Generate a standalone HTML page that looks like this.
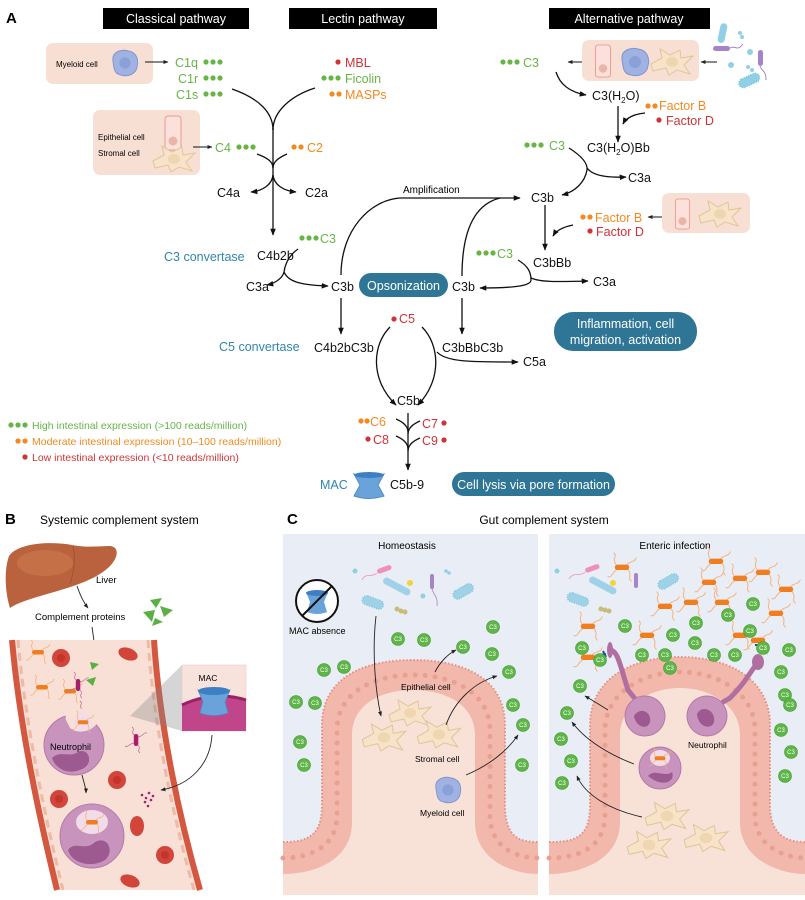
<!DOCTYPE html>
<html><head><meta charset="utf-8"><style>
html,body{margin:0;padding:0;background:#fff}
svg{display:block}
text{font-family:"Liberation Sans",Arial,sans-serif}
</style></head><body>
<svg width="805" height="900" viewBox="0 0 805 900" xmlns="http://www.w3.org/2000/svg">
<defs>
<marker id="ah" viewBox="0 0 10 10" refX="9" refY="5" markerWidth="7" markerHeight="7" orient="auto-start-reverse" markerUnits="userSpaceOnUse"><path d="M0,1 L10,5 L0,9 Z" fill="#111"/></marker>
<marker id="as" viewBox="0 0 10 10" refX="9" refY="5" markerWidth="5" markerHeight="5" orient="auto" markerUnits="userSpaceOnUse"><path d="M0,1 L10,5 L0,9 Z" fill="#222"/></marker>
<symbol id="stro" viewBox="-22 -14 44 28" overflow="visible"><path d="M-21,2 L-10,-4 L-12,-13 L-2,-7 L8,-12 L9,-4 L21,-6 L12,3 L18,12 L5,8 L-3,13 L-6,6 L-19,9 Z" fill="#f6e3c8" stroke="#e2c49c" stroke-width="1"/><ellipse cx="0" cy="0" rx="6" ry="5" fill="#efd6b0"/></symbol>
<symbol id="epi" viewBox="-9 -18 18 36" overflow="visible"><rect x="-8" y="-17" width="16" height="34" rx="3" fill="#fbe0dc" stroke="#e89a93" stroke-width="1"/><circle cx="0" cy="8" r="4.5" fill="#ecb4a6"/></symbol>
<symbol id="mye" viewBox="-15 -15 30 30" overflow="visible"><path d="M-13,-3 C-14,-12 -4,-15 3,-13 C12,-12 15,-4 13,4 C12,12 3,15 -4,13 C-12,12 -12,5 -13,-3Z" fill="#9fb2e2" stroke="#7f95cf" stroke-width="1"/><circle cx="0" cy="0" r="6" fill="#8aa0d8"/></symbol>
<symbol id="ob" viewBox="-10 -10 20 20" overflow="visible"><g fill="none" stroke="#f6b27a" stroke-width="0.8"><path d="M-5,-2 C-9,-8 -3,-9 -7,-12"/><path d="M5,2 C9,7 4,9 8,12"/><path d="M-4,2 C-9,5 -8,9 -12,8"/><path d="M4,-2 C8,-6 10,-3 12,-8"/></g><rect x="-6" y="-2" width="12" height="4.5" rx="2.2" fill="#f07d1e"/></symbol>
<symbol id="mb" viewBox="-10 -10 20 20" overflow="visible"><g fill="none" stroke="#c9709f" stroke-width="0.8"><path d="M-2,-5 C-6,-9 0,-10 -4,-13"/><path d="M2,5 C6,9 0,10 4,13"/><path d="M-2,3 C-8,4 -8,8 -11,6"/><path d="M2,-3 C8,-4 7,-8 11,-7"/></g><rect x="-2.2" y="-6" width="4.5" height="12" rx="2.2" fill="#a81e6a"/></symbol>
<symbol id="rbc" viewBox="-10 -10 20 20" overflow="visible"><circle r="9" fill="#d2453a"/><circle r="4" fill="#c2352c"/></symbol>
</defs>

<!-- ===== PANEL A ===== -->
<text x="6" y="23" font-size="15" font-weight="bold">A</text>
<rect x="103" y="8" width="146" height="21" fill="#000"/>
<text x="176" y="23" font-size="12.5" fill="#fff" text-anchor="middle">Classical pathway</text>
<rect x="289" y="8" width="148" height="21" fill="#000"/>
<text x="363" y="23" font-size="12.5" fill="#fff" text-anchor="middle">Lectin pathway</text>
<rect x="549" y="8" width="161" height="21" fill="#000"/>
<text x="629" y="23" font-size="12.5" fill="#fff" text-anchor="middle">Alternative pathway</text>

<rect x="46" y="43" width="107" height="41" rx="7" fill="#f8dfd3"/>
<text x="56" y="67" font-size="8">Myeloid cell</text>
<use href="#mye" x="111" y="49" width="28" height="28"/>
<line x1="145" y1="62" x2="168" y2="62" stroke="#111" stroke-width="1" marker-end="url(#as)"/>
<g font-size="12.5" fill="#68b447">
<text x="175" y="67">C1q</text><text x="178" y="83">C1r</text><text x="176" y="99">C1s</text>
<text x="345" y="83">Ficolin</text><text x="215" y="152">C4</text>
<text x="523" y="67">C3</text><text x="300" y="243" dx="20">C3</text><text x="549" y="150">C3</text><text x="497" y="258">C3</text>
</g>
<g fill="#68b447">
<circle cx="206" cy="62" r="2.6"/><circle cx="213" cy="62" r="2.6"/><circle cx="220" cy="62" r="2.6"/>
<circle cx="206" cy="78" r="2.6"/><circle cx="213" cy="78" r="2.6"/><circle cx="220" cy="78" r="2.6"/>
<circle cx="206" cy="94" r="2.6"/><circle cx="213" cy="94" r="2.6"/><circle cx="220" cy="94" r="2.6"/>
<circle cx="324" cy="78" r="2.6"/><circle cx="331" cy="78" r="2.6"/><circle cx="338" cy="78" r="2.6"/>
<circle cx="239" cy="147" r="2.6"/><circle cx="246" cy="147" r="2.6"/><circle cx="253" cy="147" r="2.6"/>
<circle cx="503" cy="62" r="2.6"/><circle cx="510" cy="62" r="2.6"/><circle cx="517" cy="62" r="2.6"/>
<circle cx="302" cy="238" r="2.6"/><circle cx="309" cy="238" r="2.6"/><circle cx="316" cy="238" r="2.6"/>
<circle cx="527" cy="145" r="2.6"/><circle cx="534" cy="145" r="2.6"/><circle cx="541" cy="145" r="2.6"/>
<circle cx="479" cy="253" r="2.6"/><circle cx="486" cy="253" r="2.6"/><circle cx="493" cy="253" r="2.6"/>
<circle cx="11" cy="425" r="2.6"/><circle cx="18" cy="425" r="2.6"/><circle cx="25" cy="425" r="2.6"/>
</g>
<g font-size="12.5" fill="#f28a1e">
<text x="345" y="99">MASPs</text><text x="307" y="152">C2</text><text x="659" y="110">Factor B</text><text x="595" y="222">Factor B</text><text x="370" y="426">C6</text>
</g>
<g fill="#f28a1e">
<circle cx="332" cy="94" r="2.6"/><circle cx="339" cy="94" r="2.6"/>
<circle cx="294" cy="147" r="2.6"/><circle cx="301" cy="147" r="2.6"/>
<circle cx="648" cy="106" r="2.6"/><circle cx="655" cy="106" r="2.6"/>
<circle cx="583" cy="217" r="2.6"/><circle cx="590" cy="217" r="2.6"/>
<circle cx="361" cy="421" r="2.6"/><circle cx="367" cy="421" r="2.6"/>
<circle cx="18" cy="441" r="2.6"/><circle cx="25" cy="441" r="2.6"/>
</g>
<g font-size="12.5" fill="#cf3338">
<text x="345" y="67">MBL</text><text x="666" y="125">Factor D</text><text x="596" y="236">Factor D</text>
<text x="399" y="323">C5</text><text x="422" y="428">C7</text><text x="373" y="444">C8</text><text x="422" y="445">C9</text>
</g>
<g fill="#cf3338">
<circle cx="338" cy="62" r="2.6"/><circle cx="659" cy="120" r="2.6"/><circle cx="590" cy="231" r="2.6"/>
<circle cx="394" cy="319" r="2.6"/><circle cx="444" cy="423" r="2.6"/><circle cx="368" cy="439" r="2.6"/><circle cx="444" cy="440" r="2.6"/>
<circle cx="25" cy="457" r="2.6"/>
</g>

<rect x="93" y="110" width="107" height="65" rx="7" fill="#f8dfd3"/>
<text x="98" y="140" font-size="8">Epithelial cell</text>
<text x="98" y="156" font-size="8">Stromal cell</text>
<use href="#epi" x="164" y="115" width="18" height="36"/>
<use href="#stro" x="152" y="145" width="44" height="28"/>
<line x1="193" y1="147" x2="212" y2="147" stroke="#111" stroke-width="1" marker-end="url(#as)"/>

<g fill="none" stroke="#111" stroke-width="1.3">
<path d="M232,89 C258,98 273,112 273,130"/>
<path d="M315,88 C290,96 273,112 273,130"/>
<path d="M257,154 C268,158 273,162 273,168"/>
<path d="M287,154 C278,158 273,162 273,168"/>
<path d="M273,175 C272,185 262,191 251,192" marker-end="url(#ah)"/>
<path d="M273,175 C274,185 284,191 296,192" marker-end="url(#ah)"/>
<path d="M273,128 L273,235" marker-end="url(#ah)"/>
<path d="M298,249 C288,256 285,265 284,272 C282,280 272,284 267,285" marker-end="url(#ah)"/>
<path d="M284,272 C288,281 298,285 328,286" marker-end="url(#ah)"/>
<path d="M341,275 C341,230 370,200 400,198 L520,198" marker-end="url(#ah)"/>
<path d="M462,276 C462,235 472,205 500,198"/>
<path d="M341,298 L341,334" marker-end="url(#ah)"/>
<path d="M462,298 L462,334" marker-end="url(#ah)"/>
<path d="M518,260 C528,266 531,272 531,280 C531,285 520,288 480,288" marker-end="url(#ah)"/>
<path d="M531,278 C540,282 555,282 588,281" marker-end="url(#ah)"/>
<path d="M390,327 C372,345 370,380 396,405" marker-end="url(#ah)"/>
<path d="M422,327 C440,345 442,380 418,405" marker-end="url(#ah)"/>
<path d="M437,352 C446,362 470,362 518,362" marker-end="url(#ah)"/>
<path d="M408,413 L408,470" marker-end="url(#ah)"/>
<path d="M396,419 C403,422 408,426 408,432"/><path d="M420,421 C413,424 408,428 408,434"/>
<path d="M396,436 C403,439 408,443 408,449"/><path d="M420,438 C413,441 408,445 408,451"/>
<path d="M586,62 L568,62" marker-end="url(#as)" stroke-width="1"/>
<path d="M717,62 L701,62" marker-end="url(#as)" stroke-width="1"/>
<path d="M556,72 C560,85 570,92 586,95" marker-end="url(#ah)"/>
<path d="M618,106 L618,142" marker-end="url(#ah)"/>
<path d="M645,113 C634,114 626,118 623,124" marker-end="url(#ah)"/>
<path d="M569,148 C580,155 588,163 587,170 C585,182 575,192 562,195" marker-end="url(#ah)"/>
<path d="M587,168 C592,175 605,178 626,177" marker-end="url(#ah)"/>
<path d="M545,205 L545,250" marker-end="url(#ah)"/>
<path d="M573,225 C563,227 556,231 553,236" marker-end="url(#ah)"/>
<path d="M665,217 L648,217" marker-end="url(#as)" stroke-width="1"/>
</g>

<g font-size="12.5" fill="#111">
<text x="217" y="197">C4a</text><text x="305" y="197">C2a</text>
<text x="257" y="260">C4b2b</text><text x="246" y="291">C3a</text><text x="331" y="291">C3b</text><text x="452" y="291">C3b</text>
<text x="592" y="100">C3(H<tspan font-size="8" dy="3">2</tspan><tspan dy="-3">O)</tspan></text>
<text x="587" y="152">C3(H<tspan font-size="8" dy="3">2</tspan><tspan dy="-3">O)Bb</tspan></text>
<text x="628" y="182">C3a</text><text x="531" y="202">C3b</text>
<text x="533" y="267">C3bBb</text><text x="593" y="286">C3a</text>
<text x="314" y="352">C4b2bC3b</text><text x="442" y="352">C3bBbC3b</text><text x="523" y="366">C5a</text>
<text x="397" y="405">C5b</text><text x="390" y="489">C5b-9</text>
</g>
<text x="403" y="193" font-size="10">Amplification</text>
<g font-size="12.5" fill="#2f86ad">
<text x="164" y="261">C3 convertase</text><text x="219" y="351">C5 convertase</text><text x="320" y="489">MAC</text>
</g>
<g font-size="10.5">
<text x="32" y="429" fill="#68b447">High intestinal expression (&gt;100 reads/million)</text>
<text x="32" y="445" fill="#f28a1e">Moderate intestinal expression (10–100 reads/million)</text>
<text x="32" y="461" fill="#cf3338">Low intestinal expression (&lt;10 reads/million)</text>
</g>
<rect x="359" y="273" width="89" height="24" rx="12" fill="#2e7596"/>
<text x="403.5" y="290" font-size="12.5" fill="#fff" text-anchor="middle">Opsonization</text>
<rect x="554" y="312" width="143" height="39" rx="19" fill="#2e7596"/>
<text x="625.5" y="328" font-size="12.5" fill="#fff" text-anchor="middle">Inflammation, cell</text>
<text x="625.5" y="344" font-size="12.5" fill="#fff" text-anchor="middle">migration, activation</text>
<rect x="452" y="472" width="163" height="24" rx="12" fill="#2e7596"/>
<text x="533.5" y="489" font-size="12.5" fill="#fff" text-anchor="middle">Cell lysis via pore formation</text>
<path d="M354,474 Q369,480 384,474 L378,485 L384,496 Q369,501 354,496 L360,485 Z" fill="#6aa3d9" stroke="#4f8cc8" stroke-width="1"/>
<ellipse cx="369" cy="475" rx="15" ry="3" fill="#3d7fc4"/>

<rect x="582" y="40" width="117" height="41" rx="7" fill="#f8dfd3"/>
<use href="#epi" x="594" y="44" width="18" height="34"/>
<use href="#mye" x="620" y="47" width="30" height="30"/>
<use href="#stro" x="650" y="48" width="44" height="28"/>
<rect x="662" y="193" width="88" height="40" rx="7" fill="#f8dfd3"/>
<use href="#epi" x="674" y="198" width="17" height="32"/>
<use href="#stro" x="698" y="200" width="44" height="28"/>
<g>
<rect x="719" y="23" width="7" height="20" rx="3.5" fill="#8fd0e6" transform="rotate(12 722 33)"/>
<rect x="713" y="46" width="17" height="5" rx="2.5" fill="#a783c7"/>
<path d="M730,48 C736,45 737,52 743,44" stroke="#a783c7" fill="none" stroke-width="1"/>
<rect x="758" y="50" width="5" height="16" rx="2.5" fill="#a783c7"/>
<path d="M760,66 C762,72 766,70 766,80" stroke="#a783c7" fill="none" stroke-width="1"/>
<circle cx="750" cy="52" r="3" fill="#8fd0e6"/><circle cx="731" cy="65" r="3" fill="#8fd0e6"/>
<circle cx="740" cy="33" r="2" fill="#8fd0e6"/><circle cx="742" cy="37" r="2" fill="#8fd0e6"/>
<circle cx="748" cy="67" r="2" fill="#8fd0e6"/><circle cx="752" cy="70" r="2" fill="#8fd0e6"/>
<rect x="738" y="76" width="22" height="9" rx="4.5" fill="#8fd0e6" stroke="#6cc2de" stroke-width="1.5" stroke-dasharray="1 1.5" transform="rotate(-25 749 80)"/>
</g>

<!-- ===== PANEL B ===== -->
<text x="5" y="524" font-size="15" font-weight="bold">B</text>
<text x="40" y="524" font-size="12">Systemic complement system</text>
<path d="M9,556 C18,543 50,541 72,545 C88,548 98,546 110,546 C120,547 118,558 110,566 C100,576 84,583 64,589 C42,596 22,600 10,608 C5,592 4,570 9,556Z" fill="#b9623d"/>
<ellipse cx="45" cy="563" rx="28" ry="13" fill="#cf7a50" opacity="0.6"/>
<path d="M73,546 C76,560 74,572 70,584" fill="none" stroke="#9a4d2e" stroke-width="0.7"/>
<text x="96" y="583" font-size="9.5">Liver</text>
<path d="M77,586 C80,595 84,603 88,608" fill="none" stroke="#222" stroke-width="0.9" marker-end="url(#as)"/>
<text x="35" y="620" font-size="9.5">Complement proteins</text>
<g fill="#5bb043">
<polygon points="150,600 162,598 156,608"/><polygon points="143,612 155,610 152,622"/><polygon points="160,606 173,610 164,617"/><polygon points="155,618 163,622 152,626"/>
</g>
<path d="M92,627 C94,640 95,650 96,657" fill="none" stroke="#222" stroke-width="0.9" marker-end="url(#as)"/>
<path d="M12,640 L154,640 C160,730 180,820 200,890 L57,890 C40,820 20,730 12,640Z" fill="#f8e0d6"/>
<path d="M12,640 C20,730 40,820 57,890" fill="none" stroke="#d4573f" stroke-width="6"/>
<path d="M154,640 C160,730 180,820 200,890" fill="none" stroke="#d4573f" stroke-width="6"/>
<path d="M18,640 C26,730 46,820 63,890" fill="none" stroke="#f0b9a6" stroke-width="3" stroke-dasharray="8 5"/>
<path d="M148,640 C154,730 174,820 194,890" fill="none" stroke="#f0b9a6" stroke-width="3" stroke-dasharray="8 5"/>
<use href="#rbc" x="51" y="648" width="20" height="20"/>
<ellipse cx="128" cy="654" rx="10" ry="6" fill="#d2453a" transform="rotate(20 128 654)"/>
<use href="#rbc" x="107" y="770" width="20" height="20"/>
<use href="#rbc" x="49" y="789" width="20" height="20"/>
<ellipse cx="137" cy="826" rx="7" ry="10" fill="#d2453a"/>
<use href="#rbc" x="155" y="845" width="20" height="20"/>
<ellipse cx="130" cy="881" rx="10" ry="6" fill="#d2453a" transform="rotate(20 130 881)"/>
<use href="#ob" x="28" y="642" width="20" height="20"/>
<use href="#ob" x="32" y="677" width="20" height="20"/>
<use href="#ob" x="60" y="681" width="20" height="20"/>
<use href="#mb" x="68" y="675" width="20" height="20"/>
<use href="#mb" x="74" y="704" width="20" height="20"/>
<use href="#mb" x="126" y="730" width="20" height="20"/>
<g fill="#5bb043"><polygon points="90,662 99,664 92,670"/><polygon points="86,680 96,677 93,686"/><polygon points="82,710 89,715 80,720"/></g>
<!-- neutrophil 1 -->
<circle cx="74" cy="745" r="30" fill="#c894bd" stroke="#b37aa8" stroke-width="1"/>
<path d="M66,720 C64,706 74,700 80,712 C84,700 100,704 100,716 C98,730 80,736 70,728Z" fill="#f8e0d6"/>
<circle cx="83" cy="722" r="9" fill="#f2dce8"/>
<use href="#ob" x="74" y="713" width="18" height="18"/>
<path d="M52,758 C60,750 70,758 78,752 C88,747 94,762 84,768 C70,776 56,770 52,758Z" fill="#9d5a90"/>
<text x="50" y="750" font-size="9">Neutrophil</text>
<path d="M82,775 C84,783 86,788 86,793" fill="none" stroke="#222" stroke-width="0.9" marker-end="url(#as)"/>
<circle cx="92" cy="836" r="32" fill="#c894bd" stroke="#b37aa8" stroke-width="1"/>
<ellipse cx="92" cy="822" rx="16" ry="12" fill="#f2dce8"/>
<use href="#ob" x="82" y="812" width="20" height="20"/>
<path d="M68,850 C75,840 85,852 95,842 C108,835 115,852 105,860 C92,868 72,864 68,850Z" fill="#9d5a90"/>
<polygon points="130,716 182,665 182,731" fill="#888" opacity="0.35"/>
<rect x="182" y="665" width="64" height="66" fill="#f7e3dc" stroke="#e8c8bc" stroke-width="0.5"/>
<path d="M182,705 Q214,690 246,700 L246,731 L182,731Z" fill="#c0458a"/>
<path d="M182,705 Q214,690 246,700" fill="none" stroke="#9d1f64" stroke-width="3"/>
<path d="M198,690 Q214,697 230,690 L225,702 L228,713 Q214,718 200,713 L203,702Z" fill="#6aa3d9" stroke="#4f8cc8" stroke-width="0.8"/>
<ellipse cx="214" cy="691" rx="16" ry="4" fill="#3d7fc4"/>
<text x="208" y="681" font-size="8.5" text-anchor="middle">MAC</text>
<path d="M212,735 C210,765 190,785 161,790" fill="none" stroke="#222" stroke-width="0.9" marker-end="url(#as)"/>
<g fill="#a81e6a"><circle cx="142" cy="795" r="1.3"/><circle cx="146" cy="798" r="1.3"/><circle cx="149" cy="793" r="1.3"/><circle cx="151" cy="800" r="1.3"/><circle cx="145" cy="802" r="1.3"/><circle cx="153" cy="796" r="1.3"/><circle cx="148" cy="806" r="1.3"/></g>

<!-- ===== PANEL C ===== -->
<text x="287" y="524" font-size="15" font-weight="bold">C</text>
<text x="544" y="524" font-size="12" text-anchor="middle">Gut complement system</text>
<rect x="283" y="534" width="255" height="361" fill="#e9edf5"/>
<path d="M283,842 C305,842 322,838 322,805 L322,725 C322,680 360,660 413,660 C466,660 505,680 505,725 L505,805 C505,838 520,842 538,842 L538,895 L283,895Z" fill="#f2b8ab"/>
<path d="M283,842 C305,842 322,838 322,805 L322,725 C322,680 360,660 413,660 C466,660 505,680 505,725 L505,805 C505,838 520,842 538,842" fill="none" stroke="#e68f80" stroke-width="2" stroke-dasharray="1.5 2"/>
<path d="M283,858 C305,858 337,850 337,815 L337,730 C337,695 370,675 413,675 C456,675 490,695 490,730 L490,815 C490,850 520,858 538,858" fill="none" stroke="#e8a090" stroke-width="5" stroke-dasharray="0 10" stroke-linecap="round"/>
<path d="M283,874 C315,874 352,860 352,822 L352,735 C352,705 380,690 413,690 C446,690 475,705 475,735 L475,822 C475,860 512,874 538,874 L538,895 L283,895Z" fill="#f8e2d8"/>
<text x="407" y="549" font-size="10" text-anchor="middle">Homeostasis</text>
<circle cx="317" cy="601" r="21" fill="#fff" stroke="#111" stroke-width="2"/>
<path d="M306,592 Q317,597 328,592 L324,602 L327,612 Q317,616 307,612 L310,602Z" fill="#6aa3d9"/>
<ellipse cx="317" cy="593" rx="11" ry="3" fill="#3d7fc4"/>
<line x1="302" y1="616" x2="332" y2="586" stroke="#111" stroke-width="2"/>
<text x="289" y="634" font-size="9">MAC absence</text>
<g>
<circle cx="355" cy="571" r="2.5" fill="#8fd0e6"/>
<rect x="377" y="567" width="15" height="5" rx="2.5" fill="#ef8fbc" transform="rotate(-20 384 570)"/>
<path d="M377,573 C372,578 366,572 362,580" fill="none" stroke="#ef8fbc" stroke-width="0.8"/>
<rect x="382" y="583" width="30" height="7" rx="3.5" fill="#9fd2e6" transform="rotate(28 397 586)"/>
<rect x="362" y="598" width="22" height="9" rx="4.5" fill="#9fd2e6" stroke="#7cc6e0" stroke-width="1.5" stroke-dasharray="1 1.5" transform="rotate(20 373 602)"/>
<circle cx="410" cy="583" r="3" fill="#f3d33a"/>
<circle cx="423" cy="596" r="2.5" fill="#8fd0e6"/>
<rect x="430" y="574" width="4" height="15" rx="2" fill="#a783c7"/>
<path d="M432,589 C434,596 438,596 437,606" fill="none" stroke="#a783c7" stroke-width="0.8"/>
<circle cx="446" cy="571" r="1.8" fill="#8fd0e6"/><circle cx="449" cy="573" r="1.8" fill="#8fd0e6"/>
<rect x="452" y="587" width="22" height="9" rx="4.5" fill="#9fd2e6" stroke="#7cc6e0" stroke-width="1.5" stroke-dasharray="1 1.5" transform="rotate(-30 463 591)"/>
<circle cx="397" cy="609" r="2.5" fill="#c9bb7a"/><circle cx="401" cy="611" r="2.5" fill="#c9bb7a"/><circle cx="405" cy="612" r="2.5" fill="#c9bb7a"/>
</g>
<use href="#stro" x="388" y="699" width="44" height="28"/>
<use href="#stro" x="361" y="723" width="46" height="29"/>
<use href="#stro" x="416" y="720" width="46" height="29"/>
<use href="#mye" x="434" y="776" width="28" height="28"/>
<text x="401" y="690" font-size="8.5">Epithelial cell</text>
<text x="415" y="762" font-size="8.5">Stromal cell</text>
<text x="420" y="816" font-size="8.5">Myeloid cell</text>
<g fill="none" stroke="#222" stroke-width="0.9">
<path d="M376,616 C372,650 375,690 381,716" marker-end="url(#as)"/>
<path d="M435,672 C440,662 448,654 456,650" marker-end="url(#as)"/>
<path d="M446,725 C455,700 475,682 497,676" marker-end="url(#as)"/>
<path d="M466,775 C490,765 508,750 518,735" marker-end="url(#as)"/>
</g>

<rect x="549" y="534" width="256" height="361" fill="#e9edf5"/>
<path d="M549,842 C575,842 590,838 590,805 L590,725 C590,680 630,657 680,657 C730,657 770,680 770,725 L770,805 C770,838 790,842 805,842 L805,895 L549,895Z" fill="#f2b8ab"/>
<path d="M549,842 C575,842 590,838 590,805 L590,725 C590,680 630,657 680,657 C730,657 770,680 770,725 L770,805 C770,838 790,842 805,842" fill="none" stroke="#e68f80" stroke-width="2" stroke-dasharray="1.5 2"/>
<path d="M549,858 C575,858 605,850 605,815 L605,730 C605,695 640,672 680,672 C720,672 755,695 755,730 L755,815 C755,850 790,858 805,858" fill="none" stroke="#e8a090" stroke-width="5" stroke-dasharray="0 10" stroke-linecap="round"/>
<path d="M549,874 C580,874 620,860 620,822 L620,735 C620,705 650,688 680,688 C710,688 740,705 740,735 L740,822 C740,860 780,874 805,874 L805,895 L549,895Z" fill="#f8e2d8"/>
<text x="675" y="549" font-size="10" text-anchor="middle">Enteric infection</text>
<g>
<circle cx="557" cy="571" r="2.5" fill="#8fd0e6"/>
<rect x="585" y="566" width="15" height="5" rx="2.5" fill="#ef8fbc" transform="rotate(-20 592 569)"/>
<path d="M585,572 C580,577 574,571 569,579" fill="none" stroke="#ef8fbc" stroke-width="0.8"/>
<rect x="588" y="582" width="30" height="7" rx="3.5" fill="#9fd2e6" transform="rotate(28 603 585)"/>
<rect x="567" y="595" width="22" height="9" rx="4.5" fill="#9fd2e6" stroke="#7cc6e0" stroke-width="1.5" stroke-dasharray="1 1.5" transform="rotate(20 578 599)"/>
<circle cx="613" cy="583" r="3" fill="#f3d33a"/>
<rect x="634" y="573" width="4" height="15" rx="2" fill="#a783c7"/>
<rect x="657" y="577" width="22" height="9" rx="4.5" fill="#9fd2e6" stroke="#7cc6e0" stroke-width="1.5" stroke-dasharray="1 1.5" transform="rotate(-30 668 581)"/>
<circle cx="601" cy="609" r="2.5" fill="#c9bb7a"/><circle cx="605" cy="610" r="2.5" fill="#c9bb7a"/><circle cx="609" cy="611" r="2.5" fill="#c9bb7a"/>
</g>
<g>
<use href="#ob" x="610" y="555" width="24" height="24"/><use href="#ob" x="704" y="549" width="24" height="24"/>
<use href="#ob" x="728" y="566" width="24" height="24"/><use href="#ob" x="751" y="560" width="24" height="24"/>
<use href="#ob" x="774" y="577" width="24" height="24"/><use href="#ob" x="697" y="570" width="24" height="24"/>
<use href="#ob" x="653" y="594" width="24" height="24"/><use href="#ob" x="679" y="590" width="24" height="24"/>
<use href="#ob" x="710" y="590" width="24" height="24"/><use href="#ob" x="764" y="601" width="24" height="24"/>
<use href="#ob" x="576" y="614" width="24" height="24"/><use href="#ob" x="635" y="623" width="24" height="24"/>
<use href="#ob" x="746" y="628" width="24" height="24"/><use href="#ob" x="576" y="645" width="24" height="24"/>
<use href="#ob" x="728" y="623" width="24" height="24"/>
</g>
<path d="M611,650 C618,652 620,665 628,690 L636,700" fill="none" stroke="#b06fa0" stroke-width="5" stroke-linecap="round"/>
<path d="M760,660 C752,668 748,680 730,698 L718,705" fill="none" stroke="#b06fa0" stroke-width="5" stroke-linecap="round"/>
<ellipse cx="610" cy="650" rx="3" ry="8" fill="#b06fa0"/>
<ellipse cx="758" cy="662" rx="6" ry="8" fill="#b06fa0"/>
<path d="M600,655 L606,654 M603,651 L606,657" stroke="#1f4fa5" stroke-width="2"/>
<path d="M758,650 L758,645 M755,645 L761,645" stroke="#1f4fa5" stroke-width="2"/>
<circle cx="645" cy="716" r="20" fill="#c894bd" stroke="#b37aa8" stroke-width="1"/>
<path d="M634,716 C640,706 652,712 650,722 C648,730 636,728 634,716Z" fill="#9d5a90"/>
<circle cx="707" cy="716" r="20" fill="#c894bd" stroke="#b37aa8" stroke-width="1"/>
<path d="M697,714 C702,704 716,710 714,722 C712,730 698,728 697,714Z" fill="#9d5a90"/>
<text x="688" y="748" font-size="8.5">Neutrophil</text>
<circle cx="660" cy="768" r="21" fill="#c894bd" stroke="#b37aa8" stroke-width="1"/>
<ellipse cx="660" cy="758" rx="10" ry="8" fill="#f2dce8"/>
<use href="#ob" x="651" y="749" width="18" height="18"/>
<path d="M648,776 C655,768 665,778 672,772 C676,782 662,788 648,776Z" fill="#9d5a90"/>
<use href="#stro" x="644" y="801" width="46" height="30"/>
<use href="#stro" x="626" y="830" width="46" height="30"/>
<use href="#stro" x="683" y="823" width="46" height="30"/>
<g fill="none" stroke="#222" stroke-width="0.9">
<path d="M634,764 C610,755 585,740 572,722" marker-end="url(#as)"/>
<path d="M642,817 C610,810 585,795 577,776" marker-end="url(#as)"/>
<path d="M608,710 C600,705 592,700 585,696" marker-end="url(#as)"/>
</g>

<g fill="#5fb548" stroke="#3f9a33" stroke-width="0.6">
<circle cx="398" cy="639" r="6.5"/><circle cx="424" cy="640" r="6.5"/><circle cx="463" cy="647" r="6.5"/><circle cx="493" cy="627" r="6.5"/><circle cx="492" cy="654" r="6.5"/><circle cx="324" cy="670" r="6.5"/><circle cx="344" cy="667" r="6.5"/><circle cx="509" cy="672" r="6.5"/><circle cx="296" cy="702" r="6.5"/><circle cx="315" cy="703" r="6.5"/><circle cx="513" cy="705" r="6.5"/><circle cx="523" cy="725" r="6.5"/><circle cx="300" cy="742" r="6.5"/><circle cx="304" cy="765" r="6.5"/><circle cx="522" cy="765" r="6.5"/>
<circle cx="582" cy="648" r="6.5"/><circle cx="600" cy="660" r="6.5"/><circle cx="625" cy="626" r="6.5"/><circle cx="673" cy="635" r="6.5"/><circle cx="696" cy="623" r="6.5"/><circle cx="695" cy="643" r="6.5"/><circle cx="642" cy="655" r="6.5"/><circle cx="665" cy="655" r="6.5"/><circle cx="670" cy="668" r="6.5"/><circle cx="714" cy="655" r="6.5"/><circle cx="735" cy="655" r="6.5"/><circle cx="753" cy="604" r="6.5"/><circle cx="728" cy="615" r="6.5"/><circle cx="750" cy="631" r="6.5"/><circle cx="763" cy="648" r="6.5"/><circle cx="789" cy="650" r="6.5"/><circle cx="781" cy="672" r="6.5"/><circle cx="580" cy="686" r="6.5"/><circle cx="567" cy="713" r="6.5"/><circle cx="561" cy="739" r="6.5"/><circle cx="571" cy="761" r="6.5"/><circle cx="562" cy="783" r="6.5"/><circle cx="785" cy="695" r="6.5"/><circle cx="790" cy="705" r="6.5"/><circle cx="781" cy="730" r="6.5"/><circle cx="791" cy="752" r="6.5"/><circle cx="785" cy="776" r="6.5"/>
</g>
<g font-size="6" fill="#fff" text-anchor="middle">
<text x="398" y="641">C3</text><text x="424" y="642">C3</text><text x="463" y="649">C3</text><text x="493" y="629">C3</text><text x="492" y="656">C3</text><text x="324" y="672">C3</text><text x="344" y="669">C3</text><text x="509" y="674">C3</text><text x="296" y="704">C3</text><text x="315" y="705">C3</text><text x="513" y="707">C3</text><text x="523" y="727">C3</text><text x="300" y="744">C3</text><text x="304" y="767">C3</text><text x="522" y="767">C3</text>
<text x="582" y="650">C3</text><text x="600" y="662">C3</text><text x="625" y="628">C3</text><text x="673" y="637">C3</text><text x="696" y="625">C3</text><text x="695" y="645">C3</text><text x="642" y="657">C3</text><text x="665" y="657">C3</text><text x="670" y="670">C3</text><text x="714" y="657">C3</text><text x="735" y="657">C3</text><text x="753" y="606">C3</text><text x="728" y="617">C3</text><text x="750" y="633">C3</text><text x="763" y="650">C3</text><text x="789" y="652">C3</text><text x="781" y="674">C3</text><text x="580" y="688">C3</text><text x="567" y="715">C3</text><text x="561" y="741">C3</text><text x="571" y="763">C3</text><text x="562" y="785">C3</text><text x="785" y="697">C3</text><text x="790" y="707">C3</text><text x="781" y="732">C3</text><text x="791" y="754">C3</text><text x="785" y="778">C3</text>
</g>
</svg>
</body></html>
